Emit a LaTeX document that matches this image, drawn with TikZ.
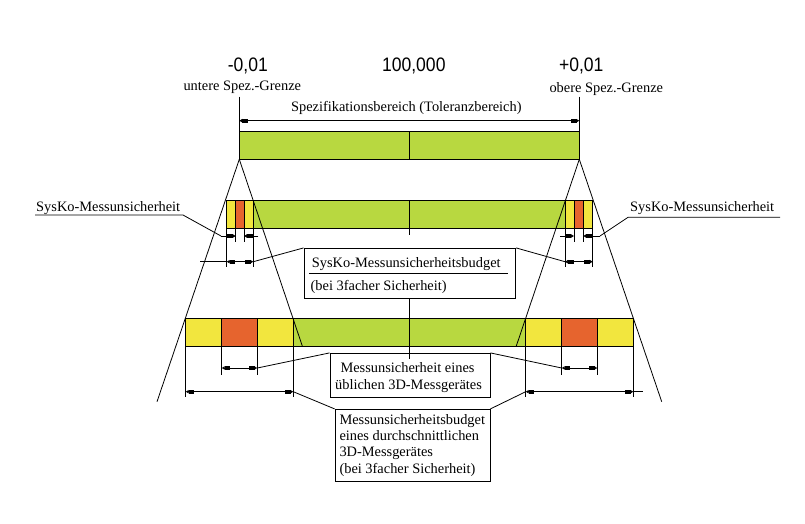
\documentclass[tikz,border=0pt]{standalone}
\usepackage{fontspec}
\setmainfont{Liberation Serif}
\newfontfamily\numfont{Liberation Sans}
\usetikzlibrary{arrows.meta}
\definecolor{barGreen}{RGB}{184,216,64}
\definecolor{barYellow}{RGB}{242,230,62}
\definecolor{barOrange}{RGB}{230,100,46}
\tikzset{
  dimtip/.tip={Rectangle[length=5.5pt,width=4pt] Latex[length=3pt,width=4pt]},
  ln/.style={line width=0.8pt, draw=black},
  dimboth/.style={ln, dimtip-dimtip},
  dimend/.style={ln, -dimtip},
  lbl/.style={inner sep=0pt, font=\fontsize{14.4}{16.4}\selectfont},
  num/.style={inner sep=0pt, anchor=base},
  boxstyle/.style={ln, fill=white, inner sep=0pt},
}
\newcommand{\numtext}[1]{\scalebox{0.9}[1]{\numfont\fontsize{19.5}{24}\selectfont #1}}
\begin{document}
\begin{tikzpicture}[x=1pt,y=-1pt]
\useasboundingbox (0,0) rectangle (805,523);
\fill[white] (0,0) rectangle (805,523);

% ---------- top labels ----------
\node[num] (nminus) at (247.8,71) {\numtext{-0,01}};
\node[num] (nmid) at (413.8,71) {\numtext{100,000}};
\node[num] (nplus) at (581.2,71) {\numtext{+0,01}};
\node[lbl, anchor=base west] (usg) at (183.3,90) {untere Spez.-Grenze};
\node[lbl, anchor=base west] (osg) at (549.3,92.7) {obere Spez.-Grenze};
\node[lbl, anchor=base] (spez) at (406.3,111.7) {Spezifikationsbereich (Toleranzbereich)};

% ---------- bar 1 ----------
\draw[ln, fill=barGreen] (239.3,131.7) rectangle (579.3,159.3);
\draw[ln] (409.3,131.7) -- (409.3,159.3);
\coordinate (e1a) at (239.3,96.7);
\coordinate (e1b) at (579.3,96.7);
\draw[ln] (e1a) -- (239.3,131.7);
\draw[ln] (e1b) -- (579.3,131.7);
\draw[dimboth] (239.3,120.7) -- (579.3,120.7);

% ---------- bar 2 ----------
\def\ta{200}\def\tb{228.3}
\draw[ln, fill=barYellow] (226.7,\ta) rectangle (235.7,\tb);
\draw[ln, fill=barOrange] (235.7,\ta) rectangle (244,\tb);
\draw[ln, fill=barYellow] (244,\ta) rectangle (253.3,\tb);
\draw[ln, fill=barGreen] (253.3,\ta) rectangle (565,\tb);
\draw[ln, fill=barYellow] (565,\ta) rectangle (574,\tb);
\draw[ln, fill=barOrange] (574,\ta) rectangle (583.3,\tb);
\draw[ln, fill=barYellow] (583.3,\ta) rectangle (592.7,\tb);
\draw[ln] (409.5,\ta) -- (409.5,235);

% ---------- bar 3 ----------
\def\tc{318.3}\def\td{346}
\draw[ln, fill=barYellow] (185.7,\tc) rectangle (221.7,\td);
\draw[ln, fill=barOrange] (221.7,\tc) rectangle (257.3,\td);
\draw[ln, fill=barYellow] (257.3,\tc) rectangle (293.3,\td);
\draw[ln, fill=barGreen] (293.3,\tc) rectangle (525.7,\td);
\draw[ln, fill=barYellow] (525.7,\tc) rectangle (561.7,\td);
\draw[ln, fill=barOrange] (561.7,\tc) rectangle (597.3,\td);
\draw[ln, fill=barYellow] (597.3,\tc) rectangle (633.3,\td);

% ---------- projection lines ----------
\coordinate (cl) at (239.3,159.3);
\coordinate (cr) at (579.3,159.3);
\coordinate (pl1) at (157,401.7);
\coordinate (pl2) at (302.3,346);
\coordinate (pr1) at (661.7,401.7);
\coordinate (pr2) at (516.3,346);
\draw[ln] (cl) -- (pl1);
\draw[ln] (cl) -- (pl2);
\draw[ln] (cr) -- (pr1);
\draw[ln] (cr) -- (pr2);

% ---------- bar 2 extension lines and dimensions ----------
\draw[ln] (226.7,\tb) -- (226.7,267);
\draw[ln] (253.3,\tb) -- (253.3,267);
\draw[ln] (235.7,\tb) -- (235.7,241.7);
\draw[ln] (244,\tb) -- (244,241.7);
\draw[ln] (565,\tb) -- (565,267);
\draw[ln] (592.7,\tb) -- (592.7,267);
\draw[ln] (574,\tb) -- (574,241.7);
\draw[ln] (583.3,\tb) -- (583.3,241.7);

\coordinate (r1la) at (221,236);
\coordinate (r1ra) at (600,236);
\draw[dimend] (r1la) -- (235.7,236);
\draw[dimend] (258.3,236) -- (244,236);
\draw[dimend] (560,236) -- (574,236);
\draw[dimend] (r1ra) -- (583.3,236);

\draw[ln] (200,261.7) -- (226.7,261.7);
\coordinate (r2l) at (253.3,261.7);
\coordinate (r2r) at (565,261.7);
\draw[dimboth] (226.7,261.7) -- (r2l);
\draw[dimboth] (r2r) -- (592.7,261.7);

% SysKo labels
\node[lbl, anchor=base west] (skl) at (36,211) {SysKo-Messunsicherheit};
\node[lbl, anchor=base west] (skr) at (630,211.7) {SysKo-Messunsicherheit};
\draw[ln] (35,215) -- (183,215) -- (r1la);
\draw[ln] (780,217.3) -- (628,217.3) -- (r1ra);

% ---------- box 2 ----------
\node[boxstyle, minimum width=211.7pt, minimum height=50pt] (b2) at (409.85,273.3) {};
\node[lbl, anchor=base west] (b2t1) at (311.7,267.7) {SysKo-Messunsicherheitsbudget};
\draw[ln] (309,273.3) -- (507.7,273.3);
\node[lbl, anchor=base west] (b2t2) at (310.5,290) {(bei 3facher Sicherheit)};
\draw[ln] (r2l) -- (b2.north west);
\draw[ln] (r2r) -- (b2.north east);

% ---------- box 3 ----------
\node[boxstyle, minimum width=160pt, minimum height=44pt] (b3) at (410,375.3) {};
\draw[ln] (b2.south -| 409.5,0) -- (409.5,358.5);
\node[lbl, anchor=base] (b3t1) at (407.5,372.7) {Messunsicherheit eines};
\node[lbl, anchor=base] (b3t2) at (408.5,389.3) {üblichen 3D-Messgerätes};

% ---------- bar 3 extension lines and dimensions ----------
\draw[ln] (185.7,\td) -- (185.7,397.3);
\draw[ln] (293.3,\td) -- (293.3,397.3);
\draw[ln] (221.7,\td) -- (221.7,375);
\draw[ln] (257.3,\td) -- (257.3,375);
\draw[ln] (525.7,\td) -- (525.7,397.3);
\draw[ln] (633.3,\td) -- (633.3,397.3);
\draw[ln] (561.7,\td) -- (561.7,375);
\draw[ln] (597.3,\td) -- (597.3,375);

\coordinate (raL) at (257.3,368);
\coordinate (raR) at (561.7,368);
\draw[dimboth] (221.7,368) -- (raL);
\draw[dimboth] (raR) -- (597.3,368);
\draw[ln] (raL) -- (b3.north west);
\draw[ln] (raR) -- (b3.north east);

\coordinate (rbL) at (293.3,391.7);
\coordinate (rbR) at (525.7,391.7);
\draw[dimboth] (185.7,391.7) -- (rbL);
\draw[dimboth] (rbR) -- (633.3,391.7);
\draw[ln] (633.3,391.7) -- (643.3,391.7);

% ---------- box 4 ----------
\node[boxstyle, minimum width=155pt, minimum height=72.4pt] (b4) at (412.5,445.5) {};
\node[lbl, anchor=base west] (b4t1) at (339.3,424) {Messunsicherheitsbudget};
\node[lbl, anchor=base west] (b4t2) at (339.3,440.4) {eines durchschnittlichen};
\node[lbl, anchor=base west] (b4t3) at (339.3,456.8) {3D-Messgerätes};
\node[lbl, anchor=base west] (b4t4) at (339.3,473.2) {(bei 3facher Sicherheit)};
\draw[ln] (rbL) -- (b4.north west);
\draw[ln] (rbR) -- (b4.north east);
\end{tikzpicture}
\end{document}
